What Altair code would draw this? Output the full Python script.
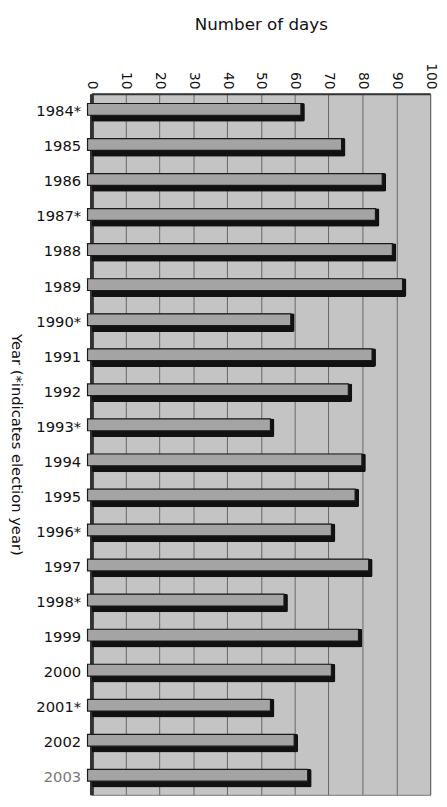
import altair as alt
import pandas as pd

years = ["1984*", "1985", "1986", "1987*", "1988", "1989", "1990*", "1991", "1992", "1993*",
         "1994", "1995", "1996*", "1997", "1998*", "1999", "2000", "2001*", "2002", "2003"]
days = [63, 75, 87, 85, 90, 93, 60, 84, 77, 54, 81, 79, 72, 83, 58, 80, 72, 54, 61, 65]
x_ticks = [0, 10, 20, 30, 40, 50, 60, 70, 80, 90, 100]

df = pd.DataFrame({"year": years, "days": days})

FONT = "DejaVu Sans"

base = alt.Chart(df).encode(
    x=alt.X(
        "days:Q",
        scale=alt.Scale(domain=[0, 100], nice=False),
        axis=alt.Axis(
            orient="top",
            values=x_ticks,
            labelAngle=90,
            title="Number of days",
            titleFont=FONT,
            titleFontSize=17,
            titleFontWeight="normal",
            titleColor="#111",
            titleBaseline="alphabetic",
            titleY=-65,
            labelFont=FONT,
            labelFontSize=14,
            labelColor="#111",
            labelPadding=5,
            ticks=False,
            grid=True,
            gridColor="#666666",
            gridWidth=1,
            domain=True,
            domainColor="#333",
            domainWidth=2,
        ),
    ),
    y=alt.Y(
        "year:N",
        sort=years,
        axis=alt.Axis(
            title="Year (*indicates election year)",
            titleFont=FONT,
            titleFontSize=15,
            titleFontWeight="normal",
            titleColor="#111",
            titleAngle=90,
            titleBaseline="middle",
            titleX=-76,
            labelFont=FONT,
            labelFontSize=15,
            labelColor=alt.expr("datum.value == '2003' ? '#777' : '#111'"),
            labelPadding=11,
            ticks=False,
            grid=False,
            domain=True,
            domainColor="#333",
            domainWidth=4,
        ),
    ),
)

shadow = base.mark_bar(color="#111", size=19, yOffset=1, cornerRadius=2)
face = base.mark_bar(
    color="#a4a4a4", size=12, yOffset=-2, xOffset=-4, x2Offset=3,
    stroke="#1a1a1a", strokeWidth=1.2,
)

chart = (
    (shadow + face)
    .properties(
        width=345,
        height=714,
        autosize="none",
        padding={"left": 85, "top": 80, "right": 9, "bottom": 5},
        background="white",
    )
    .configure_view(fill="#c4c4c4", stroke="#777", strokeWidth=1)
)

chart.save("out.html", embed_options={"renderer": "svg", "actions": False})
